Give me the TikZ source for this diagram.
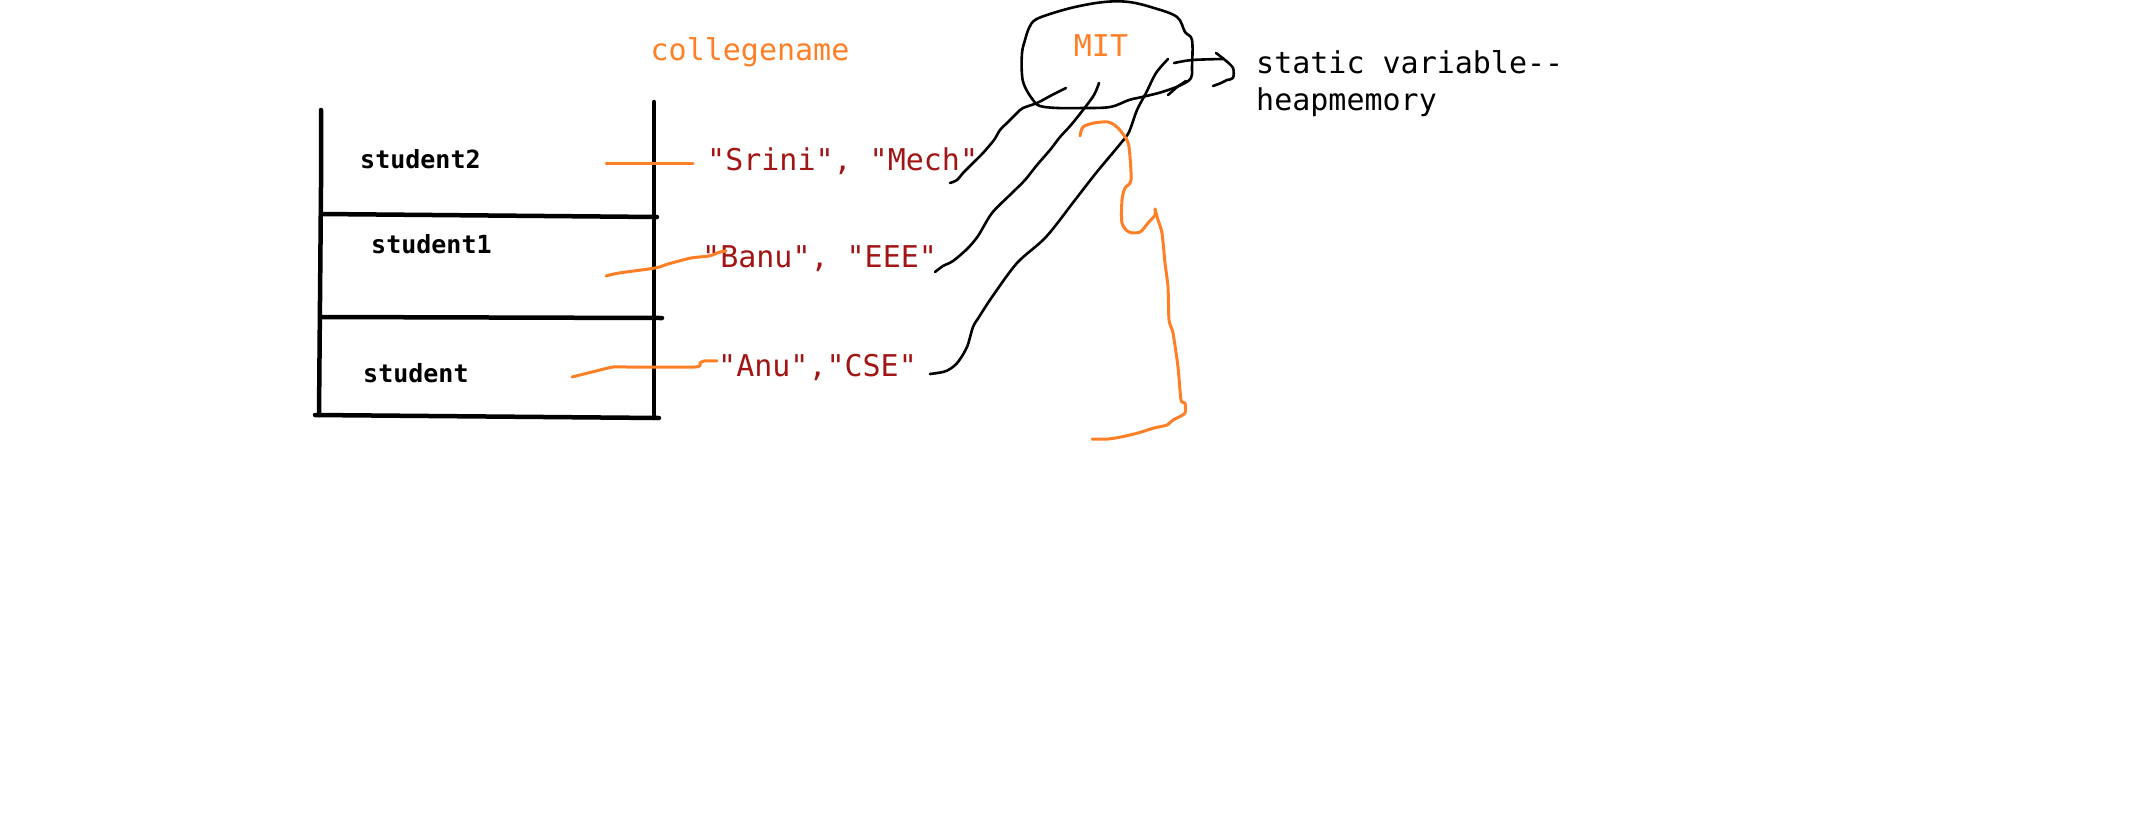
\documentclass[tikz,border=0pt]{standalone}
\usepackage{fontspec}
\setmonofont{DejaVu Sans Mono}
\usetikzlibrary{positioning}
\definecolor{paintorange}{RGB}{255,127,39}
\definecolor{strred}{RGB}{163,21,21}

\begin{document}
\begin{tikzpicture}[
  x=1pt,y=-1pt,
  code/.style={font=\ttfamily\fontsize{30}{36}\selectfont,inner sep=0pt},
  strval/.style={code,text=strred,anchor=base west},
  objname/.style={font=\ttfamily\bfseries\fontsize{25}{30}\selectfont,
                  inner sep=0pt,anchor=base west},
  wall/.style={line width=4.5pt,line cap=round},
  ref/.style={line width=2.6pt,line cap=round,line join=round},
  oref/.style={ref,draw=paintorange,line width=3pt}]

\useasboundingbox (0,0) rectangle (2131,839);

% --- the stack of references ---
\draw[wall] (321,110) -- (321,187) -- (319,415);
\draw[wall] (654,102) -- (654,418);
\draw[wall] (321,214) -- (657,217);
\draw[wall] (321,317) -- (662,318);
\draw[wall] (315,415) -- (659,418);

\node[objname] (s2) at (360,168) {student2};
\node[objname] (s1) at (371,253) {student1};
\node[objname] (s0) at (363,382) {student};

% --- objects on the heap ---
\node[strval] (v2) at (707,170) {"Srini", "Mech"};
\node[strval] (v1) at (702,267) {"Banu", "EEE"};
\node[strval] (v0) at (718,376) {"Anu","CSE"};

\node[code,text=paintorange,anchor=base] (cname) at (750,60) {collegename};
\node[code,text=paintorange,anchor=base] (mit) at (1101,56) {MIT};

\node[code,anchor=base west] (static) at (1256,73) {static variable-{}-};
\node[code,anchor=base west] (heap) at ([yshift=-37pt]static.base west) {heapmemory};

% --- blob round the shared value ---
\draw[ref] plot[smooth cycle,tension=0.6] coordinates {
  (1035,20) (1050,14) (1075,7) (1104,2) (1129,2) (1154,8) (1177,17)
  (1185,32) (1192,40) (1192,67) (1191,78) (1181,85) (1162,92) (1142,97)
  (1129,100) (1110,107) (1083,108) (1058,108) (1040,106) (1033,100)
  (1025,87) (1022,75) (1022,53) (1025,40) (1029,28)};
\draw[ref] (1168,95) -- (1177,87) -- (1186,81);   % small tick

% arrow to the note
\draw[ref] plot[smooth] coordinates {(1174,63) (1192,60) (1223,59)};
\draw[ref] plot[smooth,tension=0.5] coordinates {
  (1216,53) (1225,60) (1233,68) (1233,78) (1227,80) (1221,83) (1213,86)};

% --- black links: each object to MIT ---
\draw[ref] plot[smooth,tension=0.5] coordinates {
  (950,183) (957,180) (963,173) (973,163) (983,153) (994,140) (1000,130)
  (1008,122) (1017,113) (1023,108) (1037,103) (1052,95) (1066,88)};
\draw[ref] plot[smooth,tension=0.5] coordinates {
  (935,272) (943,266) (953,261) (967,249) (978,236) (992,213) (1012,193)
  (1025,180) (1037,165) (1050,150) (1060,137) (1071,125) (1083,110)
  (1094,95) (1099,83)};
\draw[ref] plot[smooth,tension=0.5] coordinates {
  (930,374) (943,372) (950,369) (958,362) (967,347) (973,327) (979,317)
  (992,297) (1017,263) (1046,237) (1075,200) (1096,173) (1121,143)
  (1129,132) (1137,110) (1146,93) (1156,73) (1168,59)};

% --- orange links: stack to objects ---
\draw[oref] (606,163) -- (693,163);
\draw[oref] plot[smooth,tension=0.5] coordinates {
  (606,276) (619,273) (655,268) (668,264) (691,258) (709,256) (720,252) (726,251)};
\draw[oref] plot[smooth,tension=0.4] coordinates {
  (572,377) (592,372) (613,367) (628,367) (695,367) (700,363) (704,361) (717,361)};

% orange hook below the blob
\draw[oref] plot[smooth,tension=0.5] coordinates {
  (1080,136) (1083,127) (1094,123) (1108,122) (1117,127) (1125,137)
  (1129,147) (1131,180) (1125,188) (1122,200) (1122,223) (1129,232)
  (1140,232) (1148,223) (1155,215) (1155,209)};
\draw[oref] plot[smooth,tension=0.4] coordinates {
  (1155,209) (1158,220) (1162,233) (1165,263) (1168,287) (1169,320)
  (1173,333) (1178,367) (1181,400) (1185,403) (1185,413) (1179,417)
  (1173,420) (1167,425) (1154,428) (1138,433) (1121,437) (1108,439) (1092,439)};

\end{tikzpicture}
\end{document}
